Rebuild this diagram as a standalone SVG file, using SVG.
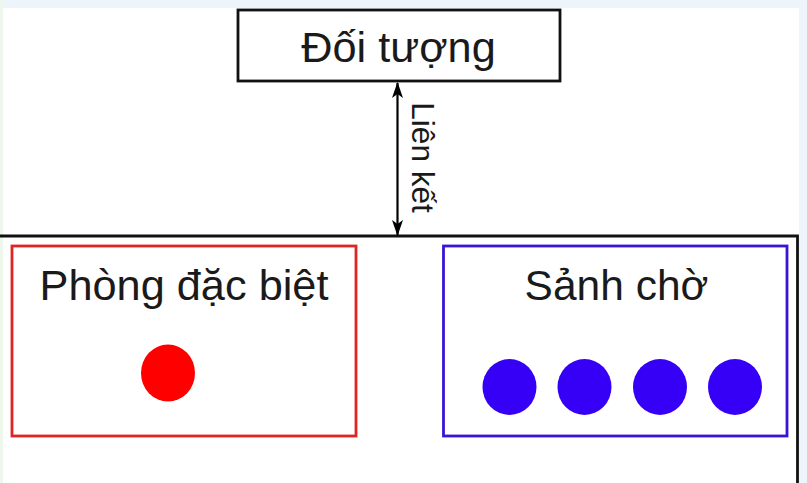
<svg xmlns="http://www.w3.org/2000/svg" width="807" height="483" viewBox="0 0 807 483">
<defs>
<style>
.lbl{font-family:"Liberation Sans",Arial,sans-serif;fill:#1a1a1a;text-anchor:middle}
.box{fill:#ffffff;stroke-width:2.8}
</style>
<marker id="ah" viewBox="0 0 16 11" refX="15" refY="5.5" markerWidth="16" markerHeight="11" markerUnits="userSpaceOnUse" orient="auto-start-reverse">
<path d="M0,0 L16,5.5 L0,11 L4,5.5 Z" fill="#000"/>
</marker>
</defs>
<rect width="807" height="483" fill="#ffffff"/>
<rect x="0" y="0" width="807" height="8" fill="#eef5fa"/>
<rect x="0" y="0" width="3" height="483" fill="#eef7ec"/>
<rect x="799" y="0" width="8" height="483" fill="#eef5fa"/>
<g id="container">
<path d="M0,236 H797.5 V483" fill="none" stroke="#111" stroke-width="2.8"/>
</g>
<g id="doi-tuong">
<rect class="box" x="238" y="10" width="322" height="71" stroke="#111"/>
<text class="lbl" x="398.5" y="62" font-size="43.3">Đối tượng</text>
</g>
<g id="phong-dac-biet">
<rect class="box" x="12" y="246" width="344" height="190" stroke="#e02424"/>
<text class="lbl" x="184" y="300" font-size="43.3">Phòng đặc biệt</text>
<ellipse cx="168" cy="373" rx="27" ry="28.5" fill="#ff0000"/>
</g>
<g id="sanh-cho">
<rect class="box" x="443.5" y="246" width="343.5" height="190" stroke="#3a14d6"/>
<text class="lbl" x="616.5" y="300" font-size="42.5">Sảnh chờ</text>
<ellipse cx="509.5" cy="387" rx="27" ry="28" fill="#3500f5"/>
<ellipse cx="584.5" cy="387" rx="27" ry="28" fill="#3500f5"/>
<ellipse cx="660" cy="387" rx="27" ry="28" fill="#3500f5"/>
<ellipse cx="735" cy="387" rx="27" ry="28" fill="#3500f5"/>
</g>
<g id="connectors">
<line x1="397.5" y1="83" x2="397.5" y2="235" stroke="#000" stroke-width="2.2" marker-start="url(#ah)" marker-end="url(#ah)"/>
<text class="lbl" font-size="31.5" transform="translate(412,157.5) rotate(90)">Liên kết</text>
</g>
</svg>
